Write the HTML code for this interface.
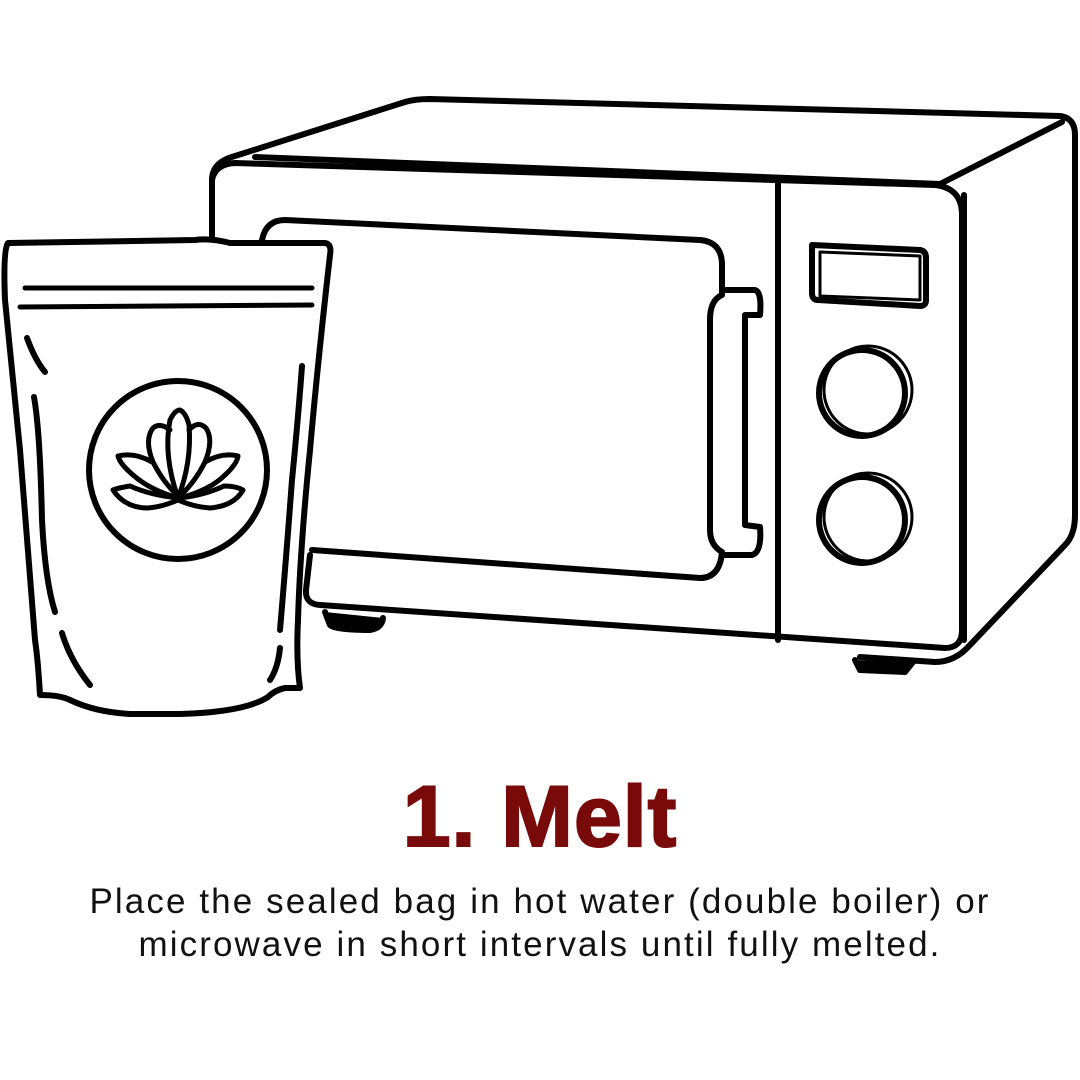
<!DOCTYPE html>
<html><head><style>
body{margin:0;background:#fff;width:1080px;height:1080px;overflow:hidden;position:relative;font-family:"Liberation Sans",sans-serif}
svg{position:absolute;left:0;top:0}
h1{position:absolute;left:0;width:1080px;top:768px;margin:0;text-align:center;font-size:86px;font-weight:bold;color:#790a0a;letter-spacing:1px;-webkit-text-stroke:2px #790a0a}
p{position:absolute;left:0;width:1080px;top:880px;margin:0;text-align:center;font-size:35px;line-height:43px;color:#111;letter-spacing:2.1px}
</style></head><body>
<svg width="1080" height="1080" viewBox="0 0 1080 1080" fill="none" stroke="#000" stroke-width="6" stroke-linecap="round" stroke-linejoin="round">
<path d="M212 237 L212 180 Q212 162 235 156 L405 102 Q415 99 430 99 L1060 116 Q1075 118 1075 135 L1075 515 Q1075 535 1065 545 L970 645 Q955 662 935 662 L860 657"/>
<path d="M255 157 L940 184 L1062 122"/>
<path d="M212 180 Q215 164 235 163 L935 185 Q962 188 962 215 L962 630 Q962 648 945 648 L320 605 Q305 604 306 590 L310 555"/>
<path d="M778 182 L778 640"/>
<path d="M964 195 L964 640"/>
<path d="M262 240 Q266 220 285 220 L700 240 Q722 242 722 265 L722 295 Q710 300 710 320 L710 530 Q710 545 722 552 Q720 578 700 578 L312 550"/>
<path d="M722 290 L755 290 Q762 292 760 315 L745 315 L745 525 L760 527 Q762 552 752 555 L722 555"/>
<path d="M812 245 L920 250 Q926 251 926 258 L926 300 Q926 306 920 306 L818 300 Q812 300 812 293 Z"/>
<path d="M820 252 L920 256 L920 300 L820 296 Z" stroke-width="3"/>
<circle cx="862" cy="393" r="43"/>
<circle cx="868" cy="390" r="44" stroke-width="3"/>
<circle cx="862" cy="520" r="43"/>
<circle cx="868" cy="517" r="44" stroke-width="3"/>
<path d="M325 612 L330 625 Q335 630 370 630 Q382 628 383 618" fill="#000"/>
<path d="M855 660 L860 670 L905 672 L913 662" fill="#000"/>
<path d="M8 243 L195 240 Q210 238 230 243 L325 243 Q332 244 330 255 Q318 360 310 450 Q300 550 298 620 Q296 660 300 688 L285 688 Q275 690 268 697 Q245 712 180 714 L130 714 Q95 712 70 700 Q60 695 40 695 Q38 660 35 640 Q28 550 20 450 Q12 370 5 300 Q3 250 8 243 Z" fill="#fff"/>
<path d="M25 288 L312 288 M20 307 L312 305" stroke-width="5"/>
<path d="M27 338 Q35 360 45 372 M34 397 Q40 430 42 520 Q45 580 55 612"/>
<path d="M62 633 Q70 660 90 685"/>
<path d="M302 366 Q298 420 292 480 Q286 560 280 630 M280 648 Q278 668 270 680"/>
<circle cx="178" cy="470" r="89"/>
<g stroke-width="5">
<path d="M178 498 Q163 455 170 420 Q175 410 180 410 Q186 413 189 425 Q192 462 178 498 Z"/>
<path d="M170 430 Q160 422 153 428 Q144 440 153 462 Q163 482 178 496"/>
<path d="M189 430 Q198 420 206 428 Q214 440 205 462 Q195 482 180 496"/>
<path d="M178 498 Q150 490 133 475 Q120 464 118 456 Q135 452 152 462"/>
<path d="M180 498 Q210 490 225 475 Q237 464 238 456 Q222 452 205 462"/>
<path d="M178 498 Q150 495 130 486 Q118 488 113 490 Q125 508 148 508 Q162 507 178 500 Q194 507 210 508 Q234 506 243 490 Q236 486 224 486 Q205 495 180 498"/>
</g>
</svg>
<h1>1. Melt</h1>
<p>Place the sealed bag in hot water (double boiler) or<br>microwave in short intervals until fully melted.</p>
</body></html>
